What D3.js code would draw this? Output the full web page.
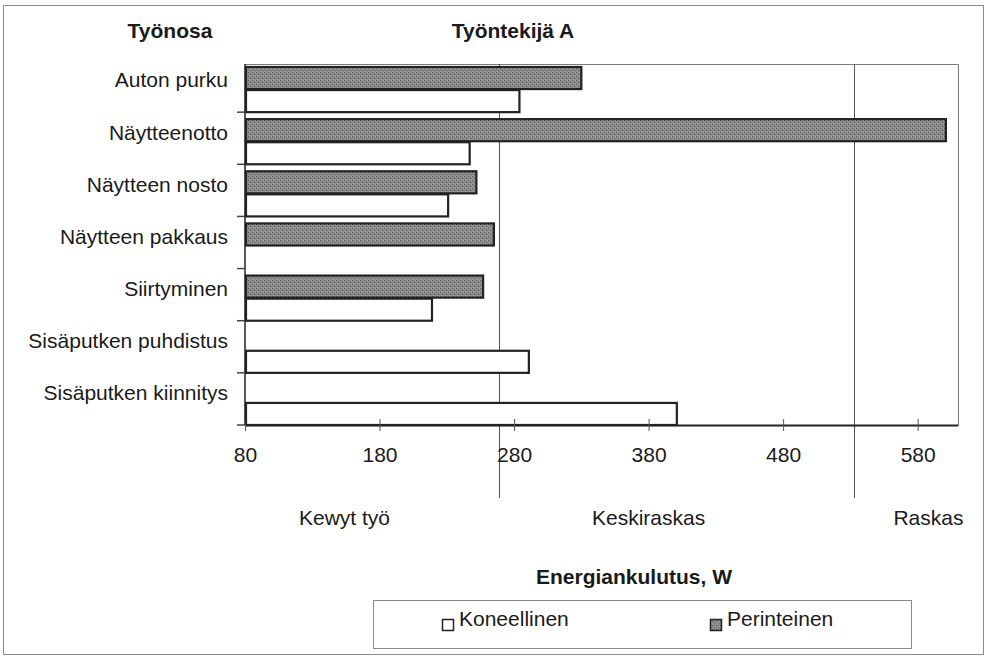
<!DOCTYPE html>
<html>
<head>
<meta charset="utf-8">
<script src="https://cdn.jsdelivr.net/npm/d3@7"></script>
<style>
  html, body { margin: 0; padding: 0; background: #fff; }
  svg { display: block; font-family: "Liberation Sans", Arial, sans-serif; }
</style>
</head>
<body>
<svg id="chart" width="988" height="658"></svg>
<script>
// ---- data ----
const categories = ["Auton purku", "Näytteenotto", "Näytteen nosto", "Näytteen pakkaus",
                    "Siirtyminen", "Sisäputken puhdistus", "Sisäputken kiinnitys"];
const seriesNames = ["Perinteinen", "Koneellinen"];
const perinteinen = [330, 601, 252, 265, 257, null, null];
const koneellinen = [284, 247, 231, null, 219, 291, 401];
const xTicks = [80, 180, 280, 380, 480, 580];
const xDomain = [80, 610];
const thresholds = [269, 533];
const zoneLabels = ["Kewyt työ", "Keskiraskas", "Raskas"];
const legendLabels = ["Koneellinen", "Perinteinen"];

// ---- layout ----
const svg = d3.select("#chart");
const plot = { left: 245, right: 958, top: 64, bottom: 425 };
const ink = "#222";
const txt = "#1a1a1a";
const fs = 21;

const defs = svg.append("defs");
const pat = defs.append("pattern").attr("id", "stipple")
  .attr("width", 4).attr("height", 4).attr("patternUnits", "userSpaceOnUse");
pat.append("rect").attr("width", 4).attr("height", 4).attr("fill", "#8a8a8a");
[[0, 0], [2, 2], [3, 0], [1, 3]].forEach(([px, py], k) =>
  pat.append("rect").attr("x", px).attr("y", py).attr("width", 1).attr("height", 1)
    .attr("fill", k < 2 ? "#5e5e5e" : "#a6a6a6"));

// outer frame
svg.append("rect").attr("x", 3.5).attr("y", 5.5).attr("width", 980).attr("height", 649)
  .attr("fill", "none").attr("stroke", "#8a8a8a").attr("stroke-width", 1);

const x = d3.scaleLinear().domain(xDomain).range([plot.left, plot.right]);
const y0 = d3.scaleBand().domain(categories).range([60, plot.bottom]);
const bw = y0.bandwidth();
const y1 = d3.scaleBand().domain(seriesNames).range([bw * 0.115, bw]);

// plot frame (top & right thin)
svg.append("path")
  .attr("d", `M${plot.left},${plot.top + 0.5}H${plot.right + 0.5}V${plot.bottom}`)
  .attr("fill", "none").attr("stroke", "#7a7a7a").attr("stroke-width", 1);

// threshold lines
svg.selectAll("line.thr").data(thresholds).join("line").attr("class", "thr")
  .attr("x1", d => Math.round(x(d)) + 0.5).attr("x2", d => Math.round(x(d)) + 0.5)
  .attr("y1", plot.top).attr("y2", 498)
  .attr("stroke", "#555").attr("stroke-width", 1);

// bars
const barData = [];
categories.forEach((c, i) => {
  if (perinteinen[i] != null) barData.push({ c, s: "Perinteinen", v: perinteinen[i] });
  if (koneellinen[i] != null) barData.push({ c, s: "Koneellinen", v: koneellinen[i] });
});
svg.append("g").selectAll("rect.bar").data(barData).join("rect").attr("class", "bar")
  .attr("x", x(xDomain[0]) + 1)
  .attr("y", d => y0(d.c) + y1(d.s) + 1)
  .attr("width", d => x(d.v) - x(xDomain[0]) - 1)
  .attr("height", y1.bandwidth() - 1)
  .attr("fill", d => d.s === "Perinteinen" ? "url(#stipple)" : "#fff")
  .attr("stroke", ink).attr("stroke-width", 2.2);

// x axis
const xAxis = d3.axisBottom(x).tickValues(xTicks).tickSize(0).tickPadding(22);
const gx = svg.append("g").attr("transform", `translate(0,${plot.bottom})`).call(xAxis);
gx.select(".domain").attr("stroke", ink).attr("stroke-width", 2);
gx.selectAll(".tick line").remove();
gx.selectAll(".tick").append("line").attr("y1", -6).attr("y2", 6)
  .attr("stroke", "#555").attr("stroke-width", 1);
gx.selectAll(".tick text").attr("font-size", fs).attr("fill", txt)
  .attr("font-family", "Liberation Sans, Arial, sans-serif");

// y axis (ticks at category boundaries)
svg.append("line").attr("x1", plot.left).attr("x2", plot.left)
  .attr("y1", plot.top).attr("y2", plot.bottom)
  .attr("stroke", ink).attr("stroke-width", 1.5);
svg.selectAll("line.ytick").data(categories).join("line").attr("class", "ytick")
  .attr("x1", plot.left - 8).attr("x2", plot.left)
  .attr("y1", d => y0(d) + bw).attr("y2", d => y0(d) + bw)
  .attr("stroke", "#444").attr("stroke-width", 1.5);
svg.selectAll("text.ylab").data(categories).join("text").attr("class", "ylab")
  .attr("x", 228).attr("y", d => y0(d) + bw / 2 - 6)
  .attr("dy", "0.35em").attr("text-anchor", "end")
  .attr("font-size", fs).attr("fill", txt).text(d => d);

// titles
svg.append("text").attr("x", 170).attr("y", 38).attr("text-anchor", "middle")
  .attr("font-size", fs).attr("font-weight", "bold").attr("fill", txt).text("Työnosa");
svg.append("text").attr("x", 513).attr("y", 38).attr("text-anchor", "middle")
  .attr("font-size", fs).attr("font-weight", "bold").attr("fill", txt).text("Työntekijä A");

// zone labels
const zoneX = [x(154), x(380), x(588)];
svg.selectAll("text.zone").data(zoneLabels).join("text").attr("class", "zone")
  .attr("x", (d, i) => zoneX[i]).attr("y", 525).attr("text-anchor", "middle")
  .attr("font-size", fs).attr("fill", txt).text(d => d);

// axis title
svg.append("text").attr("x", 634).attr("y", 584).attr("text-anchor", "middle")
  .attr("font-size", fs).attr("font-weight", "bold").attr("fill", txt).text("Energiankulutus, W");

// legend
svg.append("rect").attr("x", 373.5).attr("y", 600.5).attr("width", 538).attr("height", 48)
  .attr("fill", "#fff").attr("stroke", "#8a8a8a");
const legX = [442, 710];
const lg = svg.selectAll("g.leg").data(legendLabels).join("g").attr("class", "leg")
  .attr("transform", (d, i) => `translate(${legX[i]},619)`);
lg.append("rect").attr("x", 0.5).attr("y", 0.5).attr("width", 11).attr("height", 11)
  .attr("fill", d => d === "Perinteinen" ? "url(#stipple)" : "#fff")
  .attr("stroke", ink).attr("stroke-width", 1.5);
lg.append("text").attr("x", 17).attr("y", 7).attr("font-size", fs).attr("fill", txt)
  .text(d => d);
</script>
</body>
</html>
